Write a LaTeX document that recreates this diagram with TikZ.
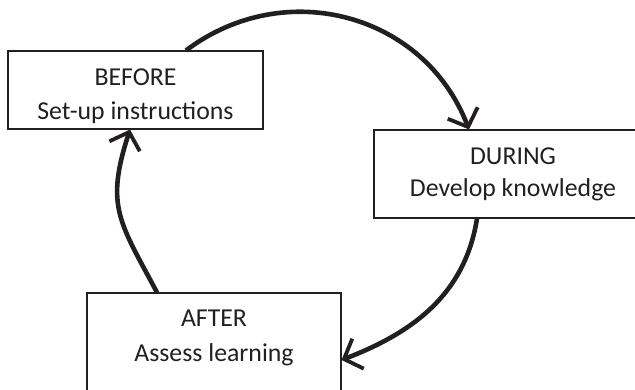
\documentclass[tikz,border=0pt]{standalone}
\usepackage{fontspec}
\setmainfont{Carlito}
\usetikzlibrary{arrows.meta}
\definecolor{ink}{RGB}{35,31,32}
\begin{document}
\begin{tikzpicture}[x=1pt,y=1pt,
  box/.style={draw=ink, line width=1.1pt, rectangle, inner xsep=0pt, inner ysep=0pt,
              align=center, text=ink, font=\fontsize{25.8}{34}\selectfont},
  cyc/.style={draw=ink, line width=4.6pt,
              -{Straight Barb[length=15pt,width=32pt,line width=3.8pt]}}]
\useasboundingbox (0,0) rectangle (635,389);
\clip (0,0) rectangle (635,389);
\node[box, minimum width=255pt, minimum height=78pt] (before) at (135.5,299)
  {\rule{0pt}{32.4pt}BEFORE\\Set-up instructions\rule[-7pt]{0pt}{7pt}};
\node[box, minimum width=278pt, minimum height=88pt, font=\fontsize{25.8}{32}\selectfont] (during) at (513,215)
  {\rule{0pt}{19pt}DURING\\Develop knowledge\rule[-7pt]{0pt}{7pt}};
\node[box, minimum width=254pt, minimum height=130pt, font=\fontsize{25.8}{35}\selectfont] (after) at (214,31)
  {\rule{0pt}{17pt}AFTER\\Assess learning\rule[-44.6pt]{0pt}{44.6pt}};
\draw[cyc] ([xshift=50.5pt]before.north) to[out=37,in=111,looseness=1.08] ([xshift=-44pt]during.north);
\draw[cyc] ([xshift=-36pt]during.south) to[out=-99,in=21] ([yshift=-2pt]after.east);
\draw[cyc] ([xshift=-57pt]after.north) to[out=118,in=-108,looseness=1.25] ([xshift=-5.5pt]before.south);
\end{tikzpicture}
\end{document}
